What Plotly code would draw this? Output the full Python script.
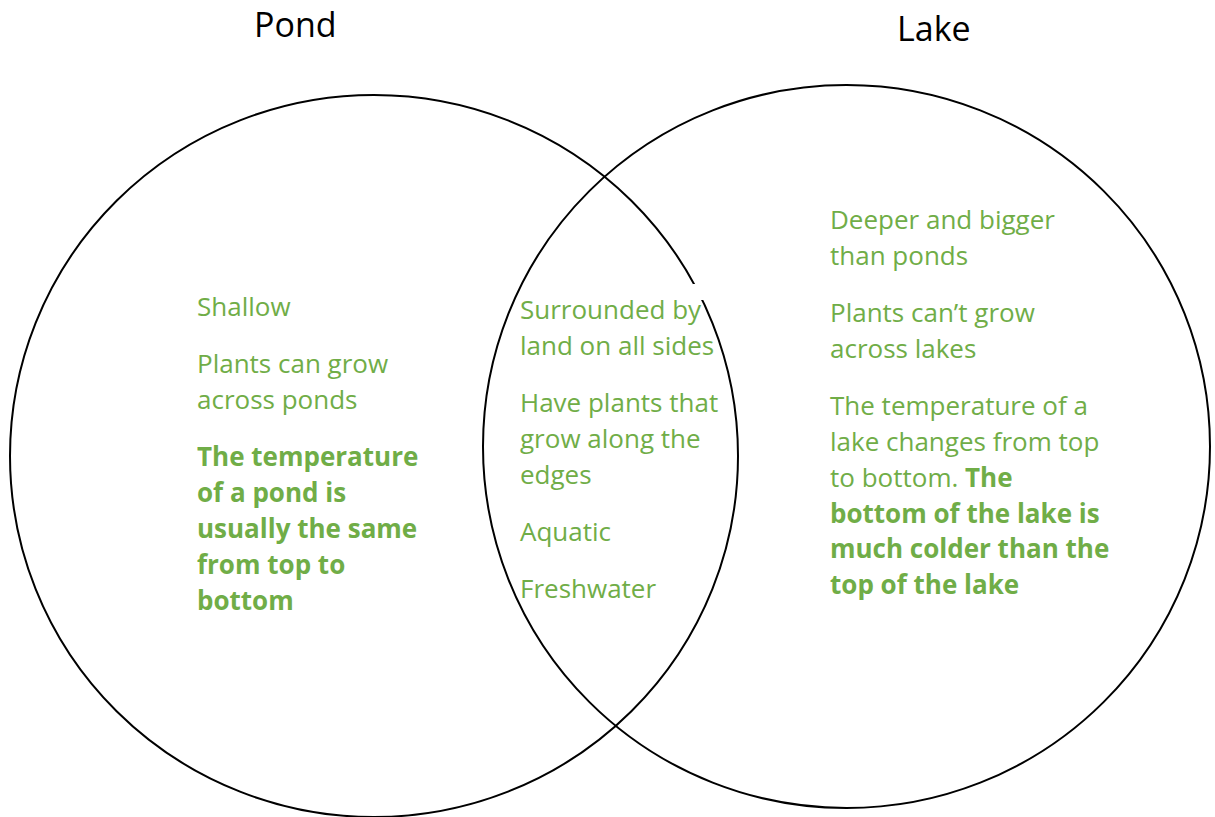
import plotly.graph_objects as go

# ---- data ----
set_names = ["Pond", "Lake"]

pond_only = [
    [("Shallow", False)],
    [("Plants can grow", False), ("across ponds", False)],
    [("The temperature", True), ("of a pond is", True), ("usually the same", True),
     ("from top to", True), ("bottom", True)],
]
both = [
    [("Surrounded by", False), ("land on all sides", False)],
    [("Have plants that", False), ("grow along the", False), ("edges", False)],
    [("Aquatic", False)],
    [("Freshwater", False)],
]
lake_only = [
    [("Deeper and bigger", False), ("than ponds", False)],
    [("Plants can\u2019t grow", False), ("across lakes", False)],
    [("The temperature of a", False), ("lake changes from top", False),
     ("to bottom. <b>The</b>", False), ("bottom of the lake is", True),
     ("much colder than the", True), ("top of the lake", True)],
]

# ---- layout / style ----
W, H = 1215, 817
GREEN = "#70AD47"
FONT = "Open Sans"
TEXT_SIZE = 26
LINE_STEP = 35.8
PARA_GAP = 21.5

circles = [  # x0, y0, x1, y1 in pixel space
    (10, 95, 738, 817),
    (483, 85, 1210, 808),
]
title_pos = [(295, 24), (934, 28)]
columns = [(195, 306, pond_only), (518, 309, both), (828, 219, lake_only)]
text_box_mask = (693, 284, 706, 300)  # white text-box corner over the left circle

fig = go.Figure()
fig.add_trace(go.Scatter(x=[0, W], y=[0, H], mode="markers",
                         marker=dict(opacity=0), hoverinfo="skip", showlegend=False))

for (x0, y0, x1, y1) in circles:
    fig.add_shape(type="circle", xref="x", yref="y", x0=x0, y0=y0, x1=x1, y1=y1,
                  line=dict(color="black", width=2), fillcolor="rgba(0,0,0,0)")

mx0, my0, mx1, my1 = text_box_mask
fig.add_shape(type="rect", xref="x", yref="y", x0=mx0, y0=my0, x1=mx1, y1=my1,
              line=dict(width=0), fillcolor="white")

for name, (tx, ty) in zip(set_names, title_pos):
    fig.add_annotation(x=tx, y=ty, xref="x", yref="y", text=name, showarrow=False,
                       xanchor="center", yanchor="middle",
                       font=dict(family=FONT, size=34, color="black"))

for (cx, cy, paras) in columns:
    y = cy
    for p in paras:
        for (txt, bold) in p:
            t = f"<b>{txt}</b>" if bold else txt
            fig.add_annotation(x=cx, y=y, xref="x", yref="y", text=t, showarrow=False,
                               xanchor="left", yanchor="middle",
                               font=dict(family=FONT, size=TEXT_SIZE, color=GREEN))
            y += LINE_STEP
        y += PARA_GAP

fig.update_layout(width=W, height=H, autosize=False,
                  margin=dict(l=0, r=0, t=0, b=0),
                  paper_bgcolor="white", plot_bgcolor="white",
                  xaxis=dict(range=[0, W], visible=False, fixedrange=True),
                  yaxis=dict(range=[H, 0], visible=False, fixedrange=True),
                  showlegend=False)

fig.write_html("out.html", config={"displayModeBar": False},
               post_script="document.body.style.margin='0';document.body.style.overflow='hidden';")
